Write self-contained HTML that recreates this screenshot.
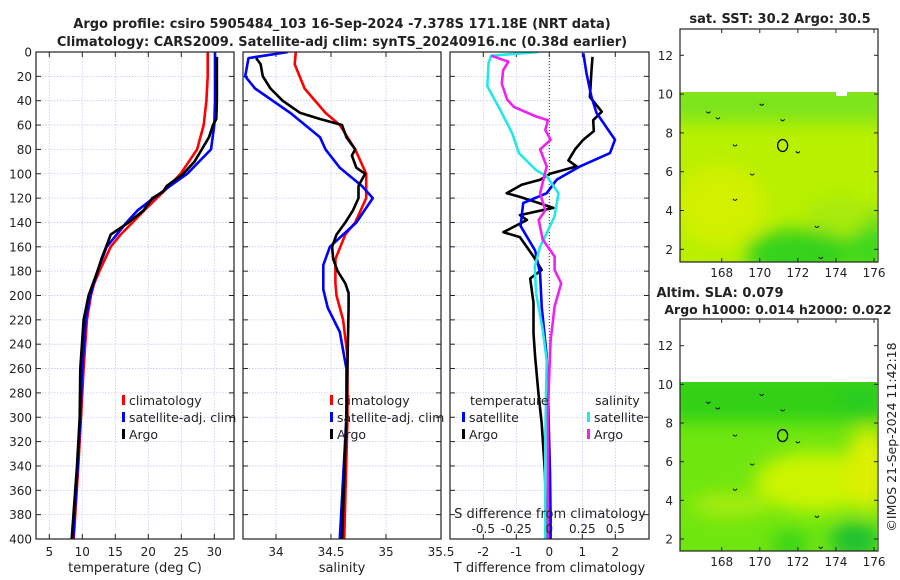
<!DOCTYPE html>
<html><head><meta charset="utf-8">
<style>
html,body{margin:0;padding:0;background:#fff;}
svg{display:block;font-family:"DejaVu Sans","Liberation Sans",sans-serif;}
</style></head>
<body>
<svg id="chart" width="900" height="580" viewBox="0 0 900 580" xmlns="http://www.w3.org/2000/svg">
<defs>
<filter id="blur6" x="-50%" y="-50%" width="200%" height="200%"><feGaussianBlur stdDeviation="9"/></filter>
<clipPath id="clipTop"><rect x="680" y="92" width="197" height="170"/></clipPath>
<clipPath id="clipBot"><rect x="680" y="382" width="197" height="169"/></clipPath>
<clipPath id="clipP1"><rect x="36" y="52" width="198" height="487"/></clipPath>
<clipPath id="clipP2"><rect x="243" y="52" width="198" height="487"/></clipPath>
<clipPath id="clipP3"><rect x="450" y="52" width="199" height="487"/></clipPath>
</defs>
<g id="root"></g>
</svg>
<script>
// ---------- DATA ----------
const depthTicks = [0,20,40,60,80,100,120,140,160,180,200,220,240,260,280,300,320,340,360,380,400];
const tempTicks = [5,10,15,20,25,30];
const salTicks = [34,34.5,35,35.5];
const salTickLabels = ["34","34.5","35","35.5"];
const diffTTicks = [-2,-1,0,1,2];
const diffSTicks = [-0.5,-0.25,0,0.25,0.5];
const diffSTickLabels = ["-0.5","-0.25","0","0.25","0.5"];

const tempClimDepth = [0,20,40,60,80,100,110,120,130,140,150,160,180,190,200,220,260,300,340,400];
const tempClimVal   = [29.0,29.0,28.8,28.4,27.4,24.9,23.2,21.3,19.4,17.6,15.8,14.3,12.6,11.8,11.3,10.7,10.2,9.8,9.4,8.7];
const tempSatDepth  = [0,20,40,60,80,100,110,120,130,140,160,180,200,220,260,300,340,400];
const tempSatVal    = [30.1,30.1,30.1,30.0,29.5,25.9,23.3,20.8,18.4,16.7,13.7,12.3,11.2,10.5,10.0,9.7,9.3,8.6];
const tempArgoDepth = [4,20,40,55,60,70,80,90,100,110,115,120,130,140,150,160,170,180,200,220,260,300,340,400];
const tempArgoVal   = [30.4,30.4,30.4,30.3,29.8,29.2,28.1,27.0,25.3,22.8,22.2,20.6,19.3,17.0,14.3,13.6,12.9,12.3,10.95,10.2,9.7,9.6,9.2,8.4];

const salClimDepth = [0,10,30,50,60,80,100,120,140,150,170,190,200,220,250,300,400];
const salClimVal   = [34.18,34.17,34.26,34.45,34.58,34.72,34.82,34.82,34.72,34.63,34.54,34.54,34.55,34.61,34.65,34.65,34.62];
const salSatDepth  = [0,5,20,30,50,70,80,95,110,120,140,160,175,195,210,230,260,300,400];
const salSatVal    = [34.11,33.75,33.72,33.81,34.13,34.40,34.45,34.58,34.78,34.88,34.73,34.49,34.43,34.43,34.47,34.58,34.64,34.64,34.58];
const salArgoDepth = [5,10,20,30,40,50,55,60,70,80,85,95,100,110,120,130,140,150,160,170,180,190,198,210,300,400];
const salArgoVal   = [33.82,33.86,33.88,33.95,34.06,34.22,34.40,34.60,34.64,34.72,34.69,34.73,34.81,34.75,34.75,34.70,34.63,34.55,34.51,34.52,34.56,34.63,34.66,34.66,34.64,34.60];

const dTArgoDepth = [4,15,37,49,56,65,72,80,89,94,100,105,109,116,119,128,134,138,148,152,168,179,186,206,231,250,280,305,346,384,400];
const dTArgoVal   = [1.31,1.28,1.23,1.59,1.33,1.35,1.03,0.78,0.58,0.83,0.02,-0.28,-0.84,-1.29,-0.89,0.12,-0.89,-0.68,-1.39,-0.89,-0.48,-0.23,-0.58,-0.48,-0.48,-0.43,-0.33,-0.23,-0.13,-0.10,-0.10];
const dTSatDepth  = [1,18,37,50,72,83,94,105,116,124,143,163,182,209,250,291,346,384,400];
const dTSatVal    = [1.03,1.13,1.28,1.43,1.99,1.84,0.93,0.22,-0.08,-0.79,-0.87,-0.43,-0.28,-0.23,-0.08,-0.03,0.02,0.04,0.04];
const dSSatDepth  = [0,3,9,28,48,67,83,97,102,116,135,160,176,198,228,253,318,384,400];
const dSSatVal    = [-0.08,-0.44,-0.46,-0.47,-0.37,-0.28,-0.23,-0.10,-0.02,0.07,0.04,-0.07,-0.11,-0.10,-0.05,-0.02,-0.03,-0.03,-0.03];
const dSArgoDepth = [3,8,15,26,39,45,53,56,64,72,80,94,116,130,138,154,168,179,190,209,237,291,384,400];
const dSArgoVal   = [-0.44,-0.31,-0.35,-0.36,-0.32,-0.27,-0.10,-0.01,-0.03,0.01,-0.07,-0.02,-0.07,-0.03,-0.08,-0.05,0.04,0.04,0.09,0.04,0.01,-0.01,-0.01,-0.01];

const latTicks = [2,4,6,8,10,12];
const lonTicks = [168,170,172,174,176];

// ---------- SCALES ----------
const yD = d => 52 + d*(487/400);
const xT = t => 49.3 + (t-5)*6.6;
const xS = s => 276 + (s-34)*110;
const xDT = t => 549.3 + t*33;
const xDS = s => 549.3 + s*132;
const lonX = l => 721.7 + (l-168)*19.04;
const latYTop = l => 55.3 + (12-l)*19.4;
const latYBot = l => 345.7 + (12-l)*19.33;

const NS = "http://www.w3.org/2000/svg";
const root = document.getElementById('root');
function mk(tag, attrs, parent){
  const e = document.createElementNS(NS, tag);
  for (const k in attrs) e.setAttribute(k, attrs[k]);
  (parent||root).appendChild(e);
  return e;
}
function txt(s, x, y, size, anchor, parent, weight){
  const t = mk('text',{x:x,y:y,'font-size':size,'text-anchor':anchor||'middle',fill:'#222'},parent);
  if (weight) t.setAttribute('font-weight', weight);
  t.textContent = s;
  return t;
}

// ---------- PANEL ----------
function panel(name, x0, x1, xs, xticks, xlabels, showY, xtitle){
  const g = mk('g',{});
  
  
  mk('rect',{x:x0,y:52,width:x1-x0,height:487,fill:'#fff'},g);
  const grid = mk('g',{stroke:'#c4c8ee','stroke-width':0.8,'stroke-dasharray':'1.5,1.5'},g);
  
  
  depthTicks.forEach(d=>{ if(d>0&&d<400) mk('line',{x1:x0,x2:x1,y1:yD(d),y2:yD(d)},grid); });
  xticks.forEach(v=>{ const x=xs(v); if(x>x0+1&&x<x1-1) mk('line',{x1:x,x2:x,y1:52,y2:539},grid); });
  const tk = mk('g',{stroke:'#222','stroke-width':1},g);
  depthTicks.forEach(d=>{ mk('line',{x1:x0,x2:x0+5,y1:yD(d),y2:yD(d)},tk); mk('line',{x1:x1-5,x2:x1,y1:yD(d),y2:yD(d)},tk); });
  xticks.forEach(v=>{ const x=xs(v); mk('line',{x1:x,x2:x,y1:539,y2:534},tk); mk('line',{x1:x,x2:x,y1:52,y2:57},tk); });
  if (showY){
    const yl = mk('g',{},g);
    
    
    depthTicks.forEach(d=>{ txt(String(d), x0-4, yD(d)+4.5, 12, 'end', yl); });
  }
  if (xlabels){
    const xl = mk('g',{},g);
    
    
    xticks.forEach((v,i)=>{ txt(xlabels[i], xs(v), 556, 12, 'middle', xl); });
  }
  const tt = txt(xtitle, (x0+x1)/2, 572, 13, 'middle', g);
  
  
  return g;
}
function line(g, xs, depths, vals, color, name, clip){
  const pts = depths.map((d,i)=> xs(vals[i]).toFixed(1)+','+yD(d).toFixed(1)).join(' ');
  const p = mk('polyline',{points:pts,fill:'none',stroke:color,'stroke-width':2.6,'stroke-linejoin':'round','clip-path':'url(#'+clip+')'},g);
  
  
}
function frame(g,x0,x1){ mk('rect',{x:x0,y:52,width:x1-x0,height:487,fill:'none',stroke:'#222','stroke-width':1.2},g); }
function legendEntry(g, x, y, color, label, name){
  const e = mk('g',{},g);
  
  
  mk('rect',{x:x,y:y-10,width:3,height:10,fill:color},e);
  txt(label, x+7, y, 12.5, 'start', e);
}

// Panel 1: temperature
const p1 = panel('temperature-panel', 36, 234, xT, tempTicks, tempTicks.map(String), true, 'temperature (deg C)');
line(p1, xT, tempClimDepth, tempClimVal, '#ff0000', 'temperature-climatology-line','clipP1');
line(p1, xT, tempSatDepth, tempSatVal, '#0000ff', 'temperature-satellite-line','clipP1');
line(p1, xT, tempArgoDepth, tempArgoVal, '#000000', 'temperature-argo-line','clipP1');
frame(p1,36,234);
legendEntry(p1, 122, 405, '#ff0000', 'climatology', 'legend-climatology');
legendEntry(p1, 122, 422, '#0000ff', 'satellite-adj. clim', 'legend-satellite-adj');
legendEntry(p1, 122, 439, '#000000', 'Argo', 'legend-argo');

// Panel 2: salinity
const p2 = panel('salinity-panel', 243, 441, xS, salTicks, salTickLabels, false, 'salinity');
line(p2, xS, salClimDepth, salClimVal, '#ff0000', 'salinity-climatology-line','clipP2');
line(p2, xS, salSatDepth, salSatVal, '#0000ff', 'salinity-satellite-line','clipP2');
line(p2, xS, salArgoDepth, salArgoVal, '#000000', 'salinity-argo-line','clipP2');
frame(p2,243,441);
legendEntry(p2, 330, 405, '#ff0000', 'climatology', 'legend-climatology-2');
legendEntry(p2, 330, 422, '#0000ff', 'satellite-adj. clim', 'legend-satellite-adj-2');
legendEntry(p2, 330, 439, '#000000', 'Argo', 'legend-argo-2');

// Panel 3: differences
const p3 = panel('difference-panel', 450, 649, xDT, diffTTicks, diffTTicks.map(String), false, 'T difference from climatology');
mk('line',{x1:xDT(0),x2:xDT(0),y1:52,y2:539,stroke:'#333','stroke-width':1,'stroke-dasharray':'1,2'},p3);
line(p3, xDT, dTArgoDepth, dTArgoVal, '#000000', 'temp-diff-argo-line','clipP3');
line(p3, xDT, dTSatDepth, dTSatVal, '#0000ff', 'temp-diff-satellite-line','clipP3');
line(p3, xDS, dSSatDepth, dSSatVal, '#22e8e8', 'sal-diff-satellite-line','clipP3');
line(p3, xDS, dSArgoDepth, dSArgoVal, '#ee22ee', 'sal-diff-argo-line','clipP3');
frame(p3,450,649);
const st = txt('S difference from climatology', 550, 518, 13, 'middle', p3);


const sl = mk('g',{},p3);


diffSTicks.forEach((v,i)=> txt(diffSTickLabels[i], xDS(v), 533, 12, 'middle', sl));
txt('temperature', 470, 405, 12.5, 'start', p3);
legendEntry(p3, 462, 422, '#0000ff', 'satellite', 'legend-temp-satellite');
legendEntry(p3, 462, 439, '#000000', 'Argo', 'legend-temp-argo');
txt('salinity', 595, 405, 12.5, 'start', p3);
legendEntry(p3, 587, 422, '#22e8e8', 'satellite', 'legend-sal-satellite');
legendEntry(p3, 587, 439, '#ee22ee', 'Argo', 'legend-sal-argo');

// Titles
const t1 = txt('Argo profile: csiro 5905484_103 16-Sep-2024 -7.378S 171.18E (NRT data)', 342, 28, 13, 'middle', null, 'bold');


const t2 = txt('Climatology: CARS2009. Satellite-adj clim: synTS_20240916.nc (0.38d earlier)', 342, 46, 13, 'middle', null, 'bold');



// ---------- MAPS ----------
function map(name, top, bottom, dataTop, latY, clip, kind){
  const g = mk('g',{});
  
  
  const cg = mk('g',{'clip-path':'url(#'+clip+')'},g);
  if (kind==='sst'){
    mk('rect',{x:680,y:dataTop,width:197,height:bottom-dataTop,fill:'#b8f000'},cg);
    const b = mk('g',{filter:'url(#blur6)'},cg);
    mk('rect',{x:670,y:dataTop-10,width:220,height:40,fill:'#7ce41a'},b);
    mk('ellipse',{cx:800,cy:bottom-8,rx:55,ry:25,fill:'#34d21c'},b);
    mk('ellipse',{cx:870,cy:bottom-20,rx:20,ry:35,fill:'#3ed81a'},b);
    mk('ellipse',{cx:720,cy:205,rx:45,ry:40,fill:'#d2f000'},b);
    mk('ellipse',{cx:840,cy:215,rx:35,ry:18,fill:'#a8ea10'},b);
    mk('rect',{x:836,y:dataTop-1,width:11,height:5,fill:'#fff'},g);
  } else {
    mk('rect',{x:680,y:dataTop,width:197,height:bottom-dataTop,fill:'#70e610'},cg);
    const b = mk('g',{filter:'url(#blur6)'},cg);
    mk('rect',{x:670,y:dataTop-10,width:220,height:50,fill:'#30d018'},b);
    mk('ellipse',{cx:815,cy:482,rx:60,ry:30,fill:'#ccf400'},b);
    mk('ellipse',{cx:868,cy:470,rx:22,ry:42,fill:'#dcf000'},b);
    mk('ellipse',{cx:730,cy:505,rx:40,ry:12,fill:'#a8ec08'},b);
    mk('ellipse',{cx:855,cy:540,rx:25,ry:18,fill:'#1cc030'},b);
    mk('ellipse',{cx:790,cy:545,rx:18,ry:15,fill:'#38d418'},b);
    mk('ellipse',{cx:858,cy:400,rx:20,ry:15,fill:'#2ccc20'},b);
  }
  const c = mk('g',{stroke:'#000','stroke-width':1,fill:'none'},g);
  
  
  [[168.7,7.4],[169.6,5.9],[168.7,4.6],[173,3.2],[173.2,1.6],[172,7.05],[167.3,9.1],[167.8,8.8],[171.2,8.7],[170.1,9.5]].forEach(p=>{
    const x=lonX(p[0]), y=latY(p[1]);
    mk('path',{d:'M'+(x-2)+','+y+' q2,3 4,0'},c);
  });
  const circ = mk('ellipse',{cx:lonX(171.2),cy:latY(7.35),rx:5,ry:6,stroke:'#000','stroke-width':1.3,fill:'none'},g);
  
  
  mk('rect',{x:680,y:top,width:198,height:bottom-top,fill:'none',stroke:'#222','stroke-width':1.2},g);
  const tk = mk('g',{stroke:'#222','stroke-width':1},g);
  latTicks.forEach(l=>{ const y=latY(l); mk('line',{x1:680,x2:684,y1:y,y2:y},tk); mk('line',{x1:874,x2:878,y1:y,y2:y},tk); txt(String(l), 673, y+4.5, 12, 'end', g); });
  lonTicks.forEach(l=>{ const x=lonX(l); mk('line',{x1:x,x2:x,y1:bottom,y2:bottom-4},tk); mk('line',{x1:x,x2:x,y1:top,y2:top+4},tk); txt(String(l), x, bottom+15, 12, 'middle', g); });
  return g;
}
map('sst-map', 29, 262, 92, latYTop, 'clipTop', 'sst');
map('sla-map', 319, 551, 382, latYBot, 'clipBot', 'sla');
const mt1 = txt('sat. SST: 30.2 Argo: 30.5', 780, 23, 13, 'middle', null, 'bold');


const mt2 = txt('Altim. SLA: 0.079', 720, 297, 13, 'middle', null, 'bold');


const mt3 = txt('Argo h1000: 0.014 h2000: 0.022', 778, 314, 12.5, 'middle', null, 'bold');


const cr = txt('©IMOS 21-Sep-2024 11:42:18', 0, 0, 12.5, 'middle');
cr.setAttribute('transform','translate(896,437) rotate(-90)');


</script>
</body></html>
